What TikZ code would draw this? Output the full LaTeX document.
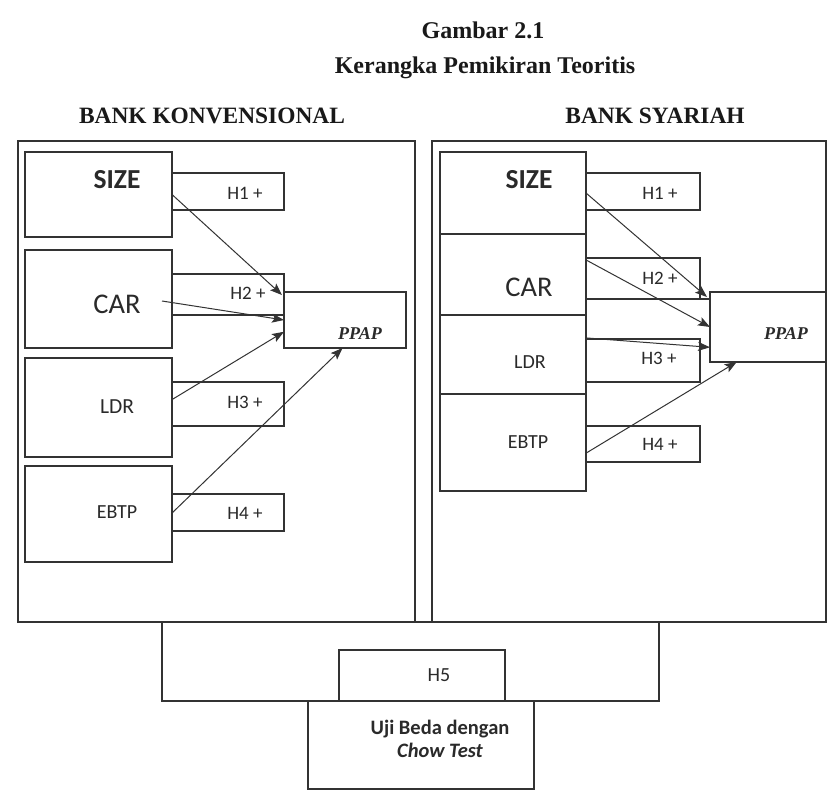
\documentclass[tikz,border=0pt]{standalone}
\usepackage{fontspec}
\setmainfont{Carlito}
\newfontfamily\tnr{Liberation Serif}
\usetikzlibrary{arrows.meta,calc}
\definecolor{linec}{HTML}{333333}
\definecolor{textc}{HTML}{2A2A2A}
\begin{document}
\begin{tikzpicture}[x=1pt,y=-1pt,
  frame/.style={draw=linec, line width=1.3pt, inner sep=0pt, outer sep=0pt, anchor=north west},
  box/.style={draw=linec, line width=1.1pt, inner sep=0pt, outer sep=0pt, anchor=north west},
  lbl/.style={anchor=base, inner sep=0pt, text=textc},
  ttl/.style={anchor=base, inner sep=0pt, text=black!90, font=\tnr\bfseries\fontsize{24}{26}\selectfont},
  big/.style={lbl, font=\fontsize{28.5}{30}\selectfont},
  mid/.style={lbl, font=\fontsize{21.5}{23}\selectfont},
  hyp/.style={lbl, font=\fontsize{19}{21}\selectfont},
  dep/.style={lbl, font=\tnr\bfseries\itshape\fontsize{18}{20}\selectfont},
  arr/.style={draw=linec, line width=1pt, -{Stealth[length=12pt,width=9pt,inset=2.5pt]}}
]
\useasboundingbox (0,0) rectangle (827,796);
\fill[white] (0,0) rectangle (827,796);

% titles
\node[ttl] (t1) at (483,38) {Gambar 2.1};
\node[ttl] (t2) at (485,73) {Kerangka Pemikiran Teoritis};
\node[ttl, font=\tnr\bfseries\fontsize{23.4}{26}\selectfont] (t3) at (212,123) {BANK KONVENSIONAL};
\node[ttl, font=\tnr\bfseries\fontsize{23.4}{26}\selectfont] (t4) at (655,123) {BANK SYARIAH};

% frames
\node[frame, minimum width=397pt, minimum height=481pt] (kframe) at (18,141) {};
\node[frame, minimum width=394pt, minimum height=481pt] (sframe) at (432,141) {};
\node[frame, minimum width=497pt, minimum height=79pt] (h5frame) at (162,622) {};
\node[box, minimum width=166pt, minimum height=51pt] (h5) at (339,650) {};
\node[box, minimum width=226pt, minimum height=88pt] (uji) at (308,701) {};

% left column
\node[box, minimum width=147pt, minimum height=85pt] (ksize) at (25,152) {};
\node[box, minimum width=147pt, minimum height=98pt] (kcar) at (25,250) {};
\node[box, minimum width=147pt, minimum height=99pt] (kldr) at (25,358) {};
\node[box, minimum width=147pt, minimum height=96pt] (kebtp) at (25,466) {};
\node[box, minimum width=112pt, minimum height=37pt] (kh1) at (172,173) {};
\node[box, minimum width=112pt, minimum height=41pt] (kh2) at (172,274) {};
\node[box, minimum width=112pt, minimum height=44pt] (kh3) at (172,382) {};
\node[box, minimum width=112pt, minimum height=37pt] (kh4) at (172,494) {};
\node[box, minimum width=122pt, minimum height=56pt] (kppap) at (284,292) {};

% right column
\node[box, minimum width=146pt, minimum height=82pt] (ssize) at (440,152) {};
\node[box, minimum width=146pt, minimum height=81pt] (scar) at (440,234) {};
\node[box, minimum width=146pt, minimum height=79pt] (sldr) at (440,315) {};
\node[box, minimum width=146pt, minimum height=97pt] (sebtp) at (440,394) {};
\node[box, minimum width=114pt, minimum height=37pt] (sh1) at (586,173) {};
\node[box, minimum width=114pt, minimum height=41pt] (sh2) at (586,258) {};
\node[box, minimum width=114pt, minimum height=43pt] (sh3) at (586,339) {};
\node[box, minimum width=114pt, minimum height=36pt] (sh4) at (586,426) {};
\node[box, minimum width=116pt, minimum height=70pt] (sppap) at (710,292) {};
\draw[draw=linec, line width=1.1pt] (sh2.south east) -- (sh2.south east -| sppap.west);

% labels left
\node[big, font=\bfseries\fontsize{27.5}{30}\selectfont] (lksize) at (117,188) {SIZE};
\node[big] (lkcar) at (117,313) {CAR};
\node[mid] (lkldr) at (117,413) {LDR};
\node[mid, font=\fontsize{20}{22}\selectfont] (lkebtp) at (117,518) {EBTP};
\node[hyp] (lkh1) at (245,199) {H1 +};
\node[hyp] (lkh2) at (248,299) {H2 +};
\node[hyp] (lkh3) at (245,408) {H3 +};
\node[hyp] (lkh4) at (245,519) {H4 +};
\node[dep] (lkppap) at (360,339) {PPAP};

% labels right
\node[big, font=\bfseries\fontsize{27.5}{30}\selectfont] (lssize) at (529,188) {SIZE};
\node[big] (lscar) at (529,296) {CAR};
\node[mid, font=\fontsize{20}{22}\selectfont] (lsldr) at (530,368) {LDR};
\node[mid, font=\fontsize{20}{22}\selectfont] (lsebtp) at (528,448) {EBTP};
\node[hyp] (lsh1) at (660,199) {H1 +};
\node[hyp] (lsh2) at (660,284) {H2 +};
\node[hyp] (lsh3) at (659,364) {H3 +};
\node[hyp] (lsh4) at (660,450) {H4 +};
\node[dep] (lsppap) at (786,339) {PPAP};

% bottom labels
\node[hyp, font=\fontsize{20}{22}\selectfont] (lh5) at (439,681) {H5};
\node[lbl, font=\bfseries\fontsize{20.5}{22}\selectfont] (luji) at (440,734) {Uji Beda dengan};
\node[lbl, font=\bfseries\itshape\fontsize{20.5}{22}\selectfont] (lchow) at (440,757) {Chow Test};

% arrows left
\coordinate (kcarstart) at (162,301);
\draw[arr] (ksize.east) -- ($(kppap.north west)+(-2,3)$);
\draw[arr] (kcarstart) -- (kppap.west);
\draw[arr] ($(kldr.north east)!0.42!(kldr.south east)$) -- ($(kppap.north west)!0.71!(kppap.south west)$);
\draw[arr] ($(kebtp.north east)!0.49!(kebtp.south east)$) -- ($(kppap.south west)!0.48!(kppap.south east)$);

% arrows right
\draw[arr] (ssize.east) -- ($(sppap.north west)+(-3,5)$);
\draw[arr] ($(scar.north east)!0.32!(scar.south east)$) -- (sppap.west);
\draw[arr] ($(sldr.north east)!0.29!(sldr.south east)$) -- ($(sppap.north west)!0.79!(sppap.south west)$);
\draw[arr] ($(sebtp.north east)!0.61!(sebtp.south east)$) -- ($(sppap.south west)!0.23!(sppap.south east)$);
\end{tikzpicture}
\end{document}
